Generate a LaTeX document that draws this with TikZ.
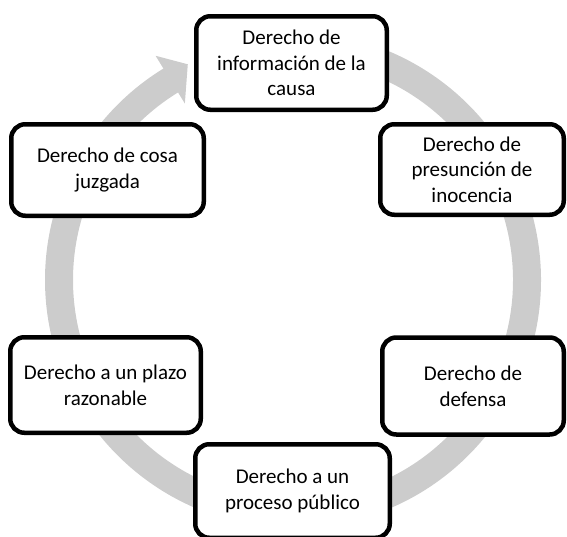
\documentclass[tikz,border=0pt]{standalone}
\usepackage{fontspec}
\setmainfont{Carlito}
\usetikzlibrary{calc}
\definecolor{ringgray}{HTML}{CCCCCC}
\tikzset{
  rbox/.style={draw=black, line width=4.5pt, fill=white, rounded corners=14pt,
    align=center, inner sep=0pt, font=\fontsize{21}{25.6}\selectfont},
  ring/.style={draw=ringgray, line width=28pt, line cap=butt}
}
\begin{document}
\begin{tikzpicture}[x=1pt,y=-1pt]
\useasboundingbox (0,0) rectangle (567,536);
\coordinate (C) at (293,280);
% circular arrow
\draw[ring] (C) ++(95:234pt) arc[start angle=95, end angle=-240, radius=234pt];
\fill[ringgray] ($(C)+(121.5:263pt)$) -- ($(C)+(116:240pt)$) -- ($(C)+(121.5:207pt)$) -- cycle;
% boxes
\node[rbox, minimum width=190.5pt, minimum height=93.5pt] (info) at (291.5,63)
  {Derecho de\\información de la\\causa};
\node[rbox, minimum width=183.5pt, minimum height=90.5pt] (pres) at (472,169.5)
  {Derecho de\\presunción de\\inocencia};
\node[rbox, minimum width=181.5pt, minimum height=97pt] (def) at (473,386)
  {Derecho de\\defensa};
\node[rbox, minimum width=194.5pt, minimum height=93.5pt] (proc) at (292.5,491)
  {Derecho a un\\proceso público};
\node[rbox, minimum width=190.5pt, minimum height=95.5pt] (plazo) at (105.5,385)
  {Derecho a un plazo\\razonable};
\node[rbox, minimum width=192.5pt, minimum height=91.5pt] (cosa) at (107.5,170)
  {Derecho de cosa\\juzgada};
\end{tikzpicture}
\end{document}
